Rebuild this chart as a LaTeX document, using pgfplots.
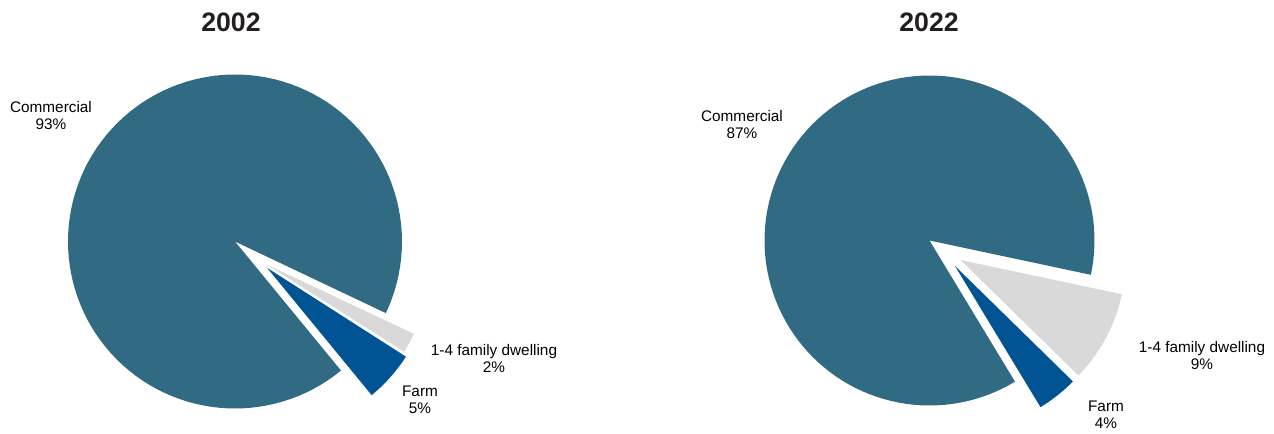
\documentclass[border=0pt]{standalone}
\usepackage{pgfplots}
\pgfplotsset{compat=1.18}
\usepackage{fontspec}
\setmainfont{Liberation Sans}
\definecolor{comm}{HTML}{316B83}
\definecolor{farm}{HTML}{005494}
\definecolor{dwell}{HTML}{D9D9D9}
\definecolor{ttl}{HTML}{231F20}
% slice: #1 apex x, #2 apex y, #3 radius, #4 start angle, #5 end angle, #6 colour, #7 extra options
\newcommand{\slice}[7]{%
  \addplot[fill=#6, #7, domain=#4:#5, samples=120, variable=\t]
    ({#1+#3*cos(\t)}, {#2+#3*sin(\t)}) -- (axis cs:#1,#2);
}
\begin{document}
\begin{tikzpicture}
\begin{axis}[at={(0,0)}, anchor=south west, width=955.5pt, height=324.75pt,
  scale only axis, xmin=0, xmax=1274, ymin=0, ymax=433, axis lines=none,
  clip=false]
\path (axis cs:0,0) rectangle (axis cs:1274,433);
% ---- 2002: Commercial 93, 1-4 family dwelling 2, Farm 5
% Commercial 93% = 334.8 deg
\slice{235}{191.5}{167}{-25.4}{309.4}{comm}{draw=none}
% 1-4 family dwelling 2% = 7.2 deg
\slice{263.5}{170.5}{167}{-32.4}{-25.2}{dwell}{draw=white, line width=0.6pt}
% Farm 5% = 18 deg
\slice{266}{166.5}{167}{-50.6}{-32.6}{farm}{draw=white, line width=0.6pt}
% ---- 2022: Commercial 87, 1-4 family dwelling 9, Farm 4
% Commercial 87% = 313.2 deg
\slice{929.5}{192.5}{165}{-12.0}{301.2}{comm}{draw=none}
% 1-4 family dwelling 9% = 32.4 deg
\slice{960.5}{173}{165}{-44.4}{-12.0}{dwell}{draw=none}
% Farm 4% = 14.4 deg
\slice{955}{167}{165}{-58.8}{-44.4}{farm}{draw=none}
% ---- titles and labels
\node[font=\fontsize{20}{24}\selectfont\bfseries, text=ttl] at (axis cs:231,411) {2002};
\node[font=\fontsize{20}{24}\selectfont\bfseries, text=ttl] at (axis cs:929,411) {2022};
\tikzset{lbl/.style={font=\fontsize{11.5}{12.75}\selectfont, align=center, inner sep=0pt}}
\node[lbl] at (axis cs:51,317.5) {Commercial\\93\%};
\node[lbl] at (axis cs:494,74.5) {1-4 family dwelling\\2\%};
\node[lbl] at (axis cs:420,33) {Farm\\5\%};
\node[lbl] at (axis cs:742,308.5) {Commercial\\87\%};
\node[lbl] at (axis cs:1202,77.5) {1-4 family dwelling\\9\%};
\node[lbl] at (axis cs:1106,18.5) {Farm\\4\%};
\end{axis}
\end{tikzpicture}
\end{document}
